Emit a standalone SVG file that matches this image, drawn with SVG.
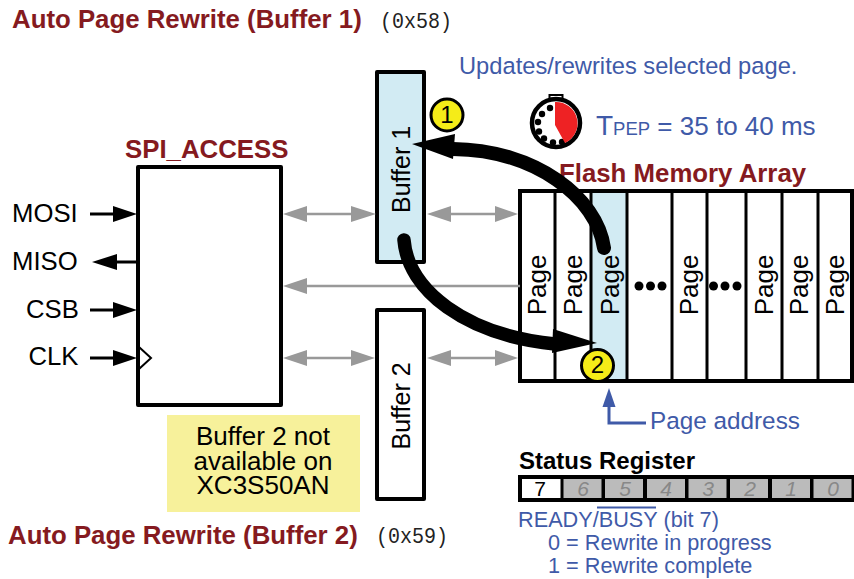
<svg xmlns="http://www.w3.org/2000/svg" width="854" height="579" viewBox="0 0 854 579">
<style>
text{font-family:"Liberation Sans",Arial,sans-serif}
.t{font-weight:bold;font-size:25.8px;fill:#851a20}
.m{font-family:"Liberation Mono","Courier New",monospace;font-size:22px;fill:#222}
.l{font-size:25.7px;fill:#000}
.n{font-size:26px;fill:#000;text-anchor:middle}
.b{font-size:23.7px;fill:#3f5aa8}
.s{font-size:21.7px;fill:#3f5aa8}
.box{stroke:#000;stroke-width:4;stroke-linejoin:round}
.pg{font-size:26px;fill:#000;text-anchor:middle}
.bf{font-size:25px;fill:#000;text-anchor:middle}
.blk{stroke:#000;stroke-width:3;fill:none}
.gr{stroke:#999;stroke-width:2.500;fill:none}
.ga{fill:#999}
.d{fill:#000}
.bit{fill:#bbb}
.bt{font-size:21px;font-style:italic;fill:#888;text-anchor:middle}
</style>
<rect width="854" height="579" fill="#fff"/>
<text class="t" x="12" y="27.500">Auto Page Rewrite (Buffer 1)</text>
<text class="m" x="380" y="28" textLength="72" lengthAdjust="spacingAndGlyphs">(0x58)</text>
<text class="t" x="8" y="544">Auto Page Rewrite (Buffer 2)</text>
<text class="m" x="376" y="543" textLength="72" lengthAdjust="spacingAndGlyphs">(0x59)</text>
<text class="b" x="459" y="74">Updates/rewrites selected page.</text>
<g id="timer">
<rect x="549.500" y="95" width="13" height="8" fill="#fff" stroke="#000" stroke-width="2"/>
<circle cx="556" cy="123" r="24" fill="#fff" stroke="#000" stroke-width="4.500"/>
<g class="d"><circle cx="550" cy="108" r="3.200"/><circle cx="542" cy="114" r="3.200"/><circle cx="538" cy="122" r="3.200"/><circle cx="539" cy="131.500" r="3.200"/><circle cx="544" cy="138.500" r="3.200"/><circle cx="553" cy="142.500" r="3.200"/><circle cx="562" cy="142" r="3.200"/></g>
<path d="M555 102A21.500 21.500 0 0 1 565 143L555 125Z" fill="#ee2224"/>
</g>
<text class="b" x="596" y="135" font-size="26" style="font-size:26px"><tspan style="font-size:28px">T</tspan><tspan style="font-size:18.500px">PEP</tspan> = 35 to 40 ms</text>
<text class="t" x="559" y="182">Flash Memory Array</text>
<text class="t" x="125" y="158">SPI_ACCESS</text>

<g id="spi"><rect class="box" x="138" y="167" width="143" height="238" fill="#fff"/>
<path d="M139 347L151 358L139 369" fill="none" stroke="#000" stroke-width="2"/></g>
<g id="pins"><text class="l" x="12" y="222">MOSI</text><text class="l" x="12" y="270">MISO</text><text class="l" x="26" y="318">CSB</text><text class="l" x="28.500" y="365">CLK</text></g>

<g id="buffer1"><rect class="box" x="377" y="72" width="47" height="190" fill="#d2ebf3"/>
<text class="bf" transform="translate(409.500 169.500) rotate(-90)">Buffer 1</text></g>
<g id="buffer2"><rect class="box" x="377" y="310" width="47" height="189" fill="#fff"/>
<text class="bf" transform="translate(409.500 406) rotate(-90)">Buffer 2</text></g>

<g id="flash">
<rect x="591" y="191" width="36" height="190" fill="#d2ebf3"/>
<rect x="520" y="191" width="332" height="190" fill="none" stroke="#000" stroke-width="4"/>
<path d="M555 191V381M591 191V381M627 191V381M672 191V381M707 191V381M746 191V381M782 191V381M818 191V381" stroke="#000" stroke-width="3"/>
<g><text class="pg" transform="translate(546 285) rotate(-90)">Page</text>
<text class="pg" transform="translate(582 285) rotate(-90)">Page</text>
<text class="pg" transform="translate(619 285) rotate(-90)">Page</text>
<text class="pg" transform="translate(698 285) rotate(-90)">Page</text>
<text class="pg" transform="translate(772.500 285) rotate(-90)">Page</text>
<text class="pg" transform="translate(808 285) rotate(-90)">Page</text>
<text class="pg" transform="translate(844 285) rotate(-90)">Page</text></g>
<g class="d"><circle cx="639" cy="286" r="4.500"/><circle cx="650.500" cy="286" r="4.500"/><circle cx="662" cy="286" r="4.500"/><circle cx="713.500" cy="286" r="4.500"/><circle cx="725" cy="286" r="4.500"/><circle cx="737" cy="286" r="4.500"/></g>
</g>

<g id="connectors">
<g class="blk"><path d="M90 214H115"/><path d="M137 262H115"/><path d="M90 310H115"/><path d="M90 358H115"/></g>
<g class="d"><path d="M113 206L137 214L113 222Z"/><path d="M117 254L92 262L117 270Z"/><path d="M113 302L137 310L113 318Z"/><path d="M113 350L137 358L113 366Z"/></g>
<g class="gr"><path d="M300 214H355"/><path d="M300 286H520"/><path d="M300 358H355"/><path d="M445 214H497"/><path d="M445 358H497"/></g>
<g class="ga">
<path d="M283 214L307 206V222Z"/><path d="M376 214L351 206V222Z"/>
<path d="M283 286L307 278V294Z"/>
<path d="M283 358L307 350V366Z"/><path d="M375 358L351 350V366Z"/>
<path d="M427 214L451 206V222Z"/><path d="M518 214L495 206V222Z"/>
<path d="M427 358L451 350V366Z"/><path d="M518 358L495 350V366Z"/>
</g>
</g>

<g id="flow">
<path d="M604 248C597 197 535 150 453 149" fill="none" stroke="#000" stroke-width="14" stroke-linecap="round"/>
<path d="M412 144L455 134L453 159Z" fill="#000"/>
<path d="M404 240C408 290 465 335 555 344" fill="none" stroke="#000" stroke-width="13.500" stroke-linecap="round"/>
<path d="M597 343L553 329L552 353Z" fill="#000"/>
</g>
<g id="step1"><circle cx="447" cy="115" r="16" fill="#f5ec18" stroke="#000" stroke-width="3"/><text x="447" y="123" font-size="24" text-anchor="middle">1</text></g>
<g id="step2"><circle cx="597.500" cy="365.500" r="16" fill="#f5ec18" stroke="#000" stroke-width="3"/><text x="597.500" y="373" font-size="24" text-anchor="middle">2</text></g>

<g id="note"><rect x="167" y="415" width="193" height="97" fill="#f7f19b"/>
<text class="n" x="263" y="445">Buffer 2 not</text><text class="n" x="263" y="470">available on</text><text class="n" x="263" y="494">XC3S50AN</text></g>

<g id="pageaddr">
<path d="M609 404V423H646" fill="none" stroke="#3f5aa8" stroke-width="3"/>
<path d="M609 388L602.500 407H615.500Z" fill="#3f5aa8"/>
<text class="b" x="650" y="429" style="font-size:24.300px">Page address</text>
</g>

<g id="status">
<text x="519" y="469" font-size="24" font-weight="bold">Status Register</text>
<rect x="518" y="475" width="336" height="27" fill="#000"/>
<rect x="522" y="479" width="38.500" height="19" fill="#fff"/>
<g class="bit"><rect x="563.500" y="479" width="38" height="19"/><rect x="605" y="479" width="38" height="19"/><rect x="647" y="479" width="38" height="19"/><rect x="688.500" y="479" width="38" height="19"/><rect x="730" y="479" width="38" height="19"/><rect x="772" y="479" width="38" height="19"/><rect x="813.500" y="479" width="38" height="19"/></g>
<text x="540" y="496" font-size="21" text-anchor="middle">7</text>
<text class="bt" x="583" y="496">6</text><text class="bt" x="625" y="496">5</text><text class="bt" x="666" y="496">4</text><text class="bt" x="708" y="496">3</text><text class="bt" x="750" y="496">2</text><text class="bt" x="791" y="496">1</text><text class="bt" x="833" y="496">0</text>
<text class="s" x="518" y="527">READY/BUSY (bit 7)</text>
<path d="M597 507.500H656" stroke="#3f5aa8" stroke-width="2"/>
<text class="s" x="548" y="550">0 = Rewrite in progress</text>
<text class="s" x="548" y="573">1 = Rewrite complete</text>
</g>
</svg>
